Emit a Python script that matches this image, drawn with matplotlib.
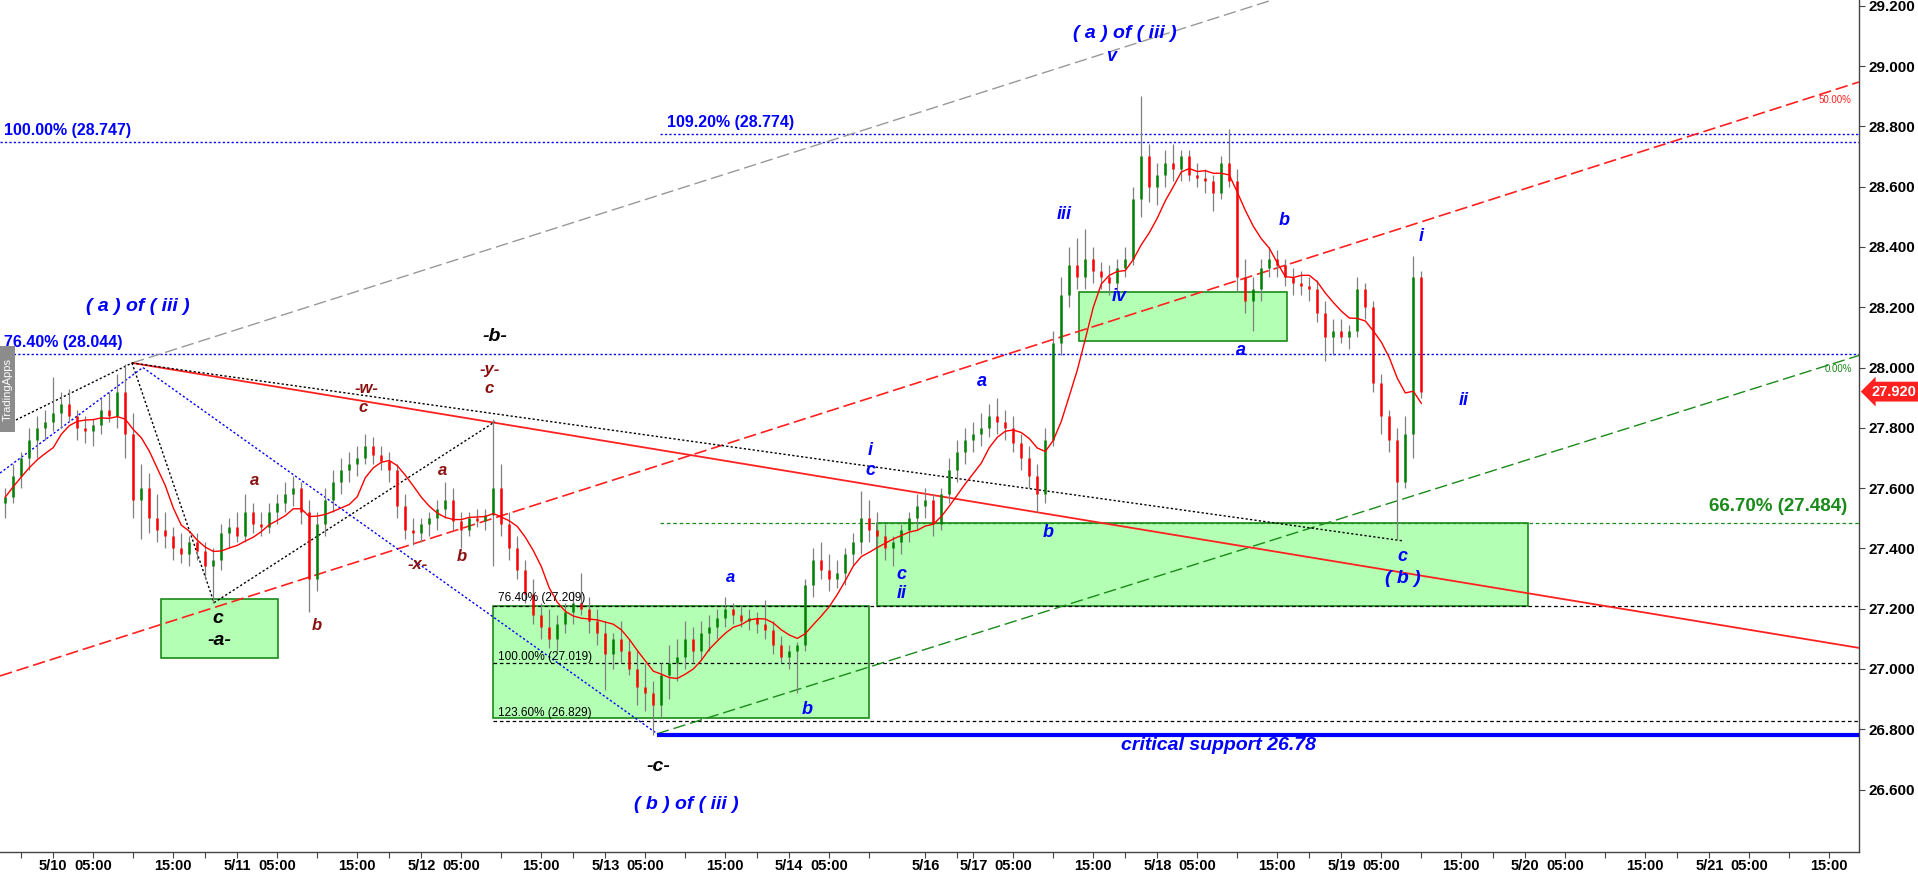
import matplotlib
matplotlib.use("Agg")
import matplotlib.pyplot as plt
from matplotlib.patches import Rectangle
import numpy as np
import pandas as pd

plt.rcParams['lines.scale_dashes'] = False
plt.rcParams['font.family'] = ['Liberation Sans', 'DejaVu Sans']

# ---------------- data: hourly bars (index 0 = 5/10 00:00, -6 = 5/9 18:00) ----------------
bar_index = list(range(-6, 172))
opens = [27.55, 27.57, 27.64, 27.70, 27.76, 27.80,
         27.82, 27.85, 27.88, 27.84, 27.80, 27.79, 27.81, 27.86, 27.84, 27.92,
         27.78, 27.56, 27.60, 27.50, 27.46, 27.44, 27.40, 27.38, 27.42, 27.39,
         27.34, 27.36, 27.45, 27.47, 27.44, 27.52, 27.48, 27.47, 27.52, 27.55,
         27.58, 27.60, 27.52, 27.30, 27.48, 27.56, 27.62, 27.66, 27.68, 27.70,
         27.74, 27.71, 27.69, 27.66, 27.54, 27.46, 27.45, 27.48, 27.50, 27.53,
         27.56, 27.49, 27.46, 27.50, 27.49, 27.51, 27.60, 27.48, 27.40, 27.33,
         27.25, 27.18, 27.14, 27.10, 27.15, 27.19, 27.22, 27.20, 27.16, 27.12,
         27.05, 27.10, 27.06, 27.00, 26.94, 26.92, 26.88, 26.98, 27.02, 27.04,
         27.10, 27.06, 27.12, 27.14, 27.17, 27.20, 27.18, 27.16, 27.17, 27.15,
         27.13, 27.08, 27.04, 27.06, 27.08, 27.28, 27.36, 27.33, 27.30, 27.32,
         27.38, 27.42, 27.50, 27.46, 27.44, 27.40, 27.42, 27.46, 27.50, 27.54,
         27.56, 27.48, 27.58, 27.66, 27.72, 27.76, 27.78, 27.80, 27.84, 27.82,
         27.80, 27.75, 27.70, 27.64, 27.58, 27.76, 28.08, 28.24, 28.34, 28.30,
         28.36, 28.32, 28.30, 28.28, 28.33, 28.36, 28.56, 28.70, 28.60, 28.64,
         28.68, 28.66, 28.70, 28.64, 28.63, 28.62, 28.58, 28.68, 28.62, 28.30,
         28.22, 28.26, 28.33, 28.36, 28.34, 28.30, 28.28, 28.27, 28.26, 28.18,
         28.10, 28.12, 28.10, 28.12, 28.26, 28.20, 27.95, 27.84, 27.76, 27.62, 27.78, 28.30]
highs = [27.60, 27.68, 27.72, 27.80, 27.84, 27.86,
         27.97, 27.92, 27.93, 27.86, 27.84, 27.83, 27.90, 27.92, 27.98, 28.01,
         27.85, 27.68, 27.65, 27.58, 27.52, 27.47, 27.45, 27.44, 27.45, 27.42,
         27.40, 27.48, 27.50, 27.52, 27.58, 27.55, 27.52, 27.55, 27.58, 27.62,
         27.64, 27.62, 27.56, 27.52, 27.60, 27.66, 27.70, 27.72, 27.74, 27.78,
         27.77, 27.74, 27.72, 27.68, 27.58, 27.50, 27.50, 27.52, 27.56, 27.62,
         27.60, 27.52, 27.52, 27.53, 27.53, 27.83, 27.68, 27.52, 27.44, 27.36,
         27.30, 27.22, 27.20, 27.18, 27.22, 27.26, 27.32, 27.24, 27.20, 27.16,
         27.12, 27.16, 27.10, 27.06, 27.02, 26.96, 27.02, 27.08, 27.10, 27.16,
         27.14, 27.16, 27.18, 27.20, 27.24, 27.22, 27.21, 27.20, 27.19, 27.23,
         27.16, 27.11, 27.08, 27.09, 27.30, 27.40, 27.42, 27.38, 27.36, 27.40,
         27.45, 27.59, 27.56, 27.52, 27.48, 27.44, 27.48, 27.52, 27.58, 27.60,
         27.58, 27.60, 27.70, 27.76, 27.80, 27.82, 27.85, 27.88, 27.90, 27.86,
         27.84, 27.78, 27.74, 27.68, 27.80, 28.12, 28.30, 28.40, 28.43, 28.46,
         28.40, 28.35, 28.34, 28.36, 28.40, 28.60, 28.90, 28.74, 28.68, 28.72,
         28.74, 28.72, 28.72, 28.68, 28.66, 28.64, 28.70, 28.79, 28.66, 28.36,
         28.30, 28.36, 28.40, 28.39, 28.36, 28.33, 28.32, 28.30, 28.29, 28.22,
         28.16, 28.16, 28.14, 28.30, 28.28, 28.22, 27.98, 27.86, 27.80, 27.84, 28.37, 28.32]
lows = [27.50, 27.55, 27.60, 27.66, 27.70, 27.76,
        27.79, 27.80, 27.82, 27.76, 27.75, 27.74, 27.78, 27.82, 27.80, 27.70,
        27.50, 27.43, 27.45, 27.42, 27.40, 27.36, 27.35, 27.34, 27.36, 27.30,
        27.22, 27.33, 27.40, 27.42, 27.42, 27.45, 27.44, 27.45, 27.48, 27.52,
        27.54, 27.48, 27.19, 27.26, 27.44, 27.52, 27.58, 27.62, 27.64, 27.68,
        27.68, 27.66, 27.62, 27.50, 27.43, 27.41, 27.42, 27.44, 27.46, 27.50,
        27.46, 27.40, 27.44, 27.47, 27.46, 27.34, 27.44, 27.36, 27.30, 27.22,
        27.15, 27.10, 27.07, 27.06, 27.12, 27.15, 27.18, 27.12, 27.08, 26.93,
        27.00, 27.02, 26.98, 26.88, 26.86, 26.78, 26.84, 26.90, 26.96, 27.00,
        27.02, 27.03, 27.06, 27.10, 27.14, 27.15, 27.14, 27.13, 27.12, 27.10,
        27.05, 27.02, 27.00, 26.92, 27.06, 27.24, 27.30, 27.26, 27.27, 27.28,
        27.34, 27.38, 27.42, 27.40, 27.36, 27.34, 27.38, 27.42, 27.46, 27.50,
        27.44, 27.46, 27.55, 27.62, 27.68, 27.72, 27.74, 27.77, 27.78, 27.76,
        27.72, 27.66, 27.60, 27.52, 27.55, 27.74, 28.04, 28.20, 28.26, 28.26,
        28.28, 28.26, 28.24, 28.25, 28.30, 28.34, 28.50, 28.55, 28.54, 28.60,
        28.62, 28.62, 28.62, 28.60, 28.58, 28.52, 28.56, 28.60, 28.25, 28.18,
        28.12, 28.22, 28.30, 28.30, 28.27, 28.24, 28.24, 28.22, 28.15, 28.02,
        28.04, 28.08, 28.06, 28.10, 28.16, 27.92, 27.78, 27.72, 27.43, 27.60, 27.70, 27.90]
closes = [27.57, 27.64, 27.70, 27.76, 27.80, 27.82,
          27.85, 27.88, 27.84, 27.80, 27.79, 27.81, 27.86, 27.84, 27.92, 27.78,
          27.56, 27.60, 27.50, 27.46, 27.44, 27.40, 27.38, 27.42, 27.39, 27.34,
          27.36, 27.45, 27.47, 27.44, 27.52, 27.48, 27.47, 27.52, 27.55, 27.58,
          27.60, 27.52, 27.30, 27.48, 27.56, 27.62, 27.66, 27.68, 27.70, 27.74,
          27.71, 27.69, 27.66, 27.54, 27.46, 27.45, 27.48, 27.50, 27.53, 27.56,
          27.49, 27.46, 27.50, 27.49, 27.51, 27.60, 27.48, 27.40, 27.33, 27.25,
          27.18, 27.14, 27.10, 27.15, 27.19, 27.22, 27.20, 27.16, 27.12, 27.05,
          27.10, 27.06, 27.00, 26.94, 26.92, 26.88, 26.98, 27.02, 27.04, 27.10,
          27.06, 27.12, 27.14, 27.17, 27.20, 27.18, 27.16, 27.17, 27.15, 27.13,
          27.08, 27.04, 27.06, 27.08, 27.28, 27.36, 27.33, 27.30, 27.32, 27.38,
          27.42, 27.50, 27.46, 27.44, 27.40, 27.42, 27.46, 27.50, 27.54, 27.56,
          27.48, 27.58, 27.66, 27.72, 27.76, 27.78, 27.80, 27.84, 27.82, 27.80,
          27.75, 27.70, 27.64, 27.58, 27.76, 28.08, 28.24, 28.34, 28.30, 28.36,
          28.32, 28.30, 28.28, 28.33, 28.36, 28.56, 28.70, 28.60, 28.64, 28.68,
          28.66, 28.70, 28.64, 28.63, 28.62, 28.58, 28.68, 28.62, 28.30, 28.22,
          28.26, 28.33, 28.36, 28.34, 28.30, 28.28, 28.27, 28.26, 28.18, 28.10,
          28.12, 28.10, 28.12, 28.26, 28.20, 27.95, 27.84, 27.76, 27.62, 27.78, 28.30, 27.92]
ma_window = 7
last_price = 27.92

y_ticks = [26.6, 26.8, 27.0, 27.2, 27.4, 27.6, 27.8, 28.0, 28.2, 28.4, 28.6, 28.8, 29.0, 29.2]
x_tick_pos = [0, 5, 15, 23, 28, 38, 46, 51, 61, 69, 74, 84, 92, 97, 109,
              115, 120, 130, 138, 143, 153, 161, 166, 176, 184, 189, 199, 207, 212, 222]
x_tick_labels = ["5/10", "05:00", "15:00", "5/11", "05:00", "15:00", "5/12", "05:00", "15:00",
                 "5/13", "05:00", "15:00", "5/14", "05:00", "5/16", "5/17", "05:00", "15:00",
                 "5/18", "05:00", "15:00", "5/19", "05:00", "15:00", "5/20", "05:00", "15:00",
                 "5/21", "05:00", "15:00"]
x_minor_pos = [-4, 10, 19, 33, 42, 56, 65, 79, 88, 102, 113, 125, 134, 148, 157, 171, 180, 194, 203, 217]

# fib / level values
levels_blue = [28.747, 28.044]
level_109 = 28.774
levels_fib_black = [27.209, 27.019, 26.829]
level_green = 27.484
critical_support = 26.78

# ---------------- figure ----------------
fig = plt.figure(figsize=(19.18, 8.75), dpi=100)
ax = fig.add_axes([0, 0.02663, 0.96924, 0.97337])
XMIN, XMAX = -6.66, 225.71
ax.set_xlim(XMIN, XMAX)
ax.set_ylim(26.394, 29.219)
ax.set_facecolor('white')
for s in ['top', 'left']:
    ax.spines[s].set_visible(False)
for s in ['right', 'bottom']:
    ax.spines[s].set_color('#444444')
    ax.spines[s].set_linewidth(1.0)

ax.yaxis.tick_right()
ax.set_yticks(y_ticks)
ax.set_yticklabels([f"{v:.3f}" for v in y_ticks])
ax.tick_params(axis='y', direction='out', length=4, width=0.8, pad=3, labelsize=11, colors='#444444', labelcolor='black')
for t in ax.get_yticklabels():
    t.set_fontweight('bold')
ax.set_xticks(x_tick_pos)
ax.set_xticklabels(x_tick_labels)
ax.set_xticks(x_minor_pos, minor=True)
ax.tick_params(axis='x', which='both', direction='out', length=4, width=0.8, pad=1.5, labelsize=10.5, colors='#444444', labelcolor='black')
for t in ax.get_xticklabels():
    t.set_fontweight('bold')

# ---------------- boxes ----------------
boxes = [((13.5, 27.036), (28.05, 27.232)),
         ((55.0, 26.838), (102.0, 27.209)),
         ((103.0, 27.209), (184.3, 27.484)),
         ((128.2, 28.088), (154.2, 28.25))]
for (x0, y0), (x1, y1) in boxes:
    ax.add_patch(Rectangle((x0, y0), x1 - x0, y1 - y0, facecolor='#b3ffb3', edgecolor='#1a8a1a', lw=1.2, zorder=1))

# ---------------- horizontal levels ----------------
dot = (0, (1.6, 1.6))
fdash = (0, (2.6, 2.0))
ldash = (0, (9, 3.5))
for lv in levels_blue:
    ax.hlines(lv, XMIN, XMAX, colors='#0000ff', linestyles=dot, lw=1.0, zorder=2)
ax.hlines(level_109, 75.8, XMAX, colors='#0000ff', linestyles=dot, lw=1.0, zorder=2)
for lv in levels_fib_black:
    ax.hlines(lv, 55.0, XMAX, colors='black', linestyles=fdash, lw=0.9, zorder=2)
ax.hlines(level_green, 75.8, XMAX, colors='#1a8a1a', linestyles=fdash, lw=0.9, zorder=2)
ax.hlines(critical_support, 75.5, XMAX, colors='#0000ff', lw=3.0, zorder=3)

# ---------------- trend / channel drawings ----------------
ax.plot([9.84, 170.0], [28.015, 29.368], color='#999999', ls=ldash, lw=1.0, zorder=2)
ax.plot([-6.66, 225.71], [26.977, 28.947], color='#ff2020', ls=ldash, lw=1.2, zorder=2)
ax.plot([75.45, 225.71], [26.785, 28.04], color='#1a8a1a', ls=ldash, lw=1.0, zorder=2)
ax.plot([9.9, 225.71], [28.015, 27.07], color='#ff2020', lw=1.3, zorder=2)
ax.plot([-6.66, 9.84], [27.80, 28.015], color='black', ls=dot, lw=1.0, zorder=2)
ax.plot([9.84, 20.1, 55.2], [28.015, 27.22, 27.82], color='black', ls=dot, lw=1.0, zorder=2)
ax.plot([9.84, 168.7], [28.015, 27.425], color='black', ls=dot, lw=1.0, zorder=2)
ax.plot([-6.66, 11.2, 75.5], [27.65, 28.0, 26.785], color='#0000ff', ls=dot, lw=1.0, zorder=2)

# ---------------- candles ----------------
x = np.array(bar_index)
o = np.array(opens); h = np.array(highs); l = np.array(lows); c = np.array(closes)
up = c >= o
ax.vlines(x, l, h, color='#808080', lw=0.9, zorder=4)
ax.vlines(x[up], o[up], c[up], color='#008000', lw=1.8, zorder=5)
ax.vlines(x[~up], o[~up], c[~up], color='#ff0000', lw=1.8, zorder=5)
ma = pd.Series(closes).rolling(ma_window, min_periods=1).mean()
ax.plot(x, ma, color='#ff0000', lw=1.0, zorder=6)

# ---------------- labels ----------------
def lab(xp, yp, s, color, size, style='italic', weight='bold', ha='center'):
    ax.text(xp, yp, s, color=color, fontsize=size, fontstyle=style, fontweight=weight,
            ha=ha, va='center', zorder=8)

BLUE = '#0000ff'
MAROON = '#8b1010'
for xp, yp, s, sz in [(10.6, 28.204, "( a ) of ( iii )", 14), (133.9, 29.109, "( a ) of ( iii )", 14),
                      (132.2, 29.033, "v", 13), (79.1, 26.552, "( b ) of ( iii )", 14),
                      (84.6, 27.305, "a", 12), (94.2, 26.867, "b", 13), (102.1, 27.726, "i", 13),
                      (102.1, 27.66, "c", 13), (106.0, 27.312, "c", 13), (106.0, 27.249, "ii", 13),
                      (116.1, 27.952, "a", 13), (124.4, 27.454, "b", 13), (126.4, 28.509, "iii", 13),
                      (133.2, 28.234, "iv", 13), (148.5, 28.058, "a", 13), (153.9, 28.486, "b", 13),
                      (171.0, 28.436, "i", 13), (176.3, 27.892, "ii", 13), (168.6, 27.372, "c", 13),
                      (168.7, 27.30, "( b )", 14)]:
    lab(xp, yp, s, BLUE, sz)
for xp, yp, s in [(25.1, 27.624, "a"), (32.9, 27.143, "b"), (39.1, 27.93, "-w-"), (38.7, 27.869, "c"),
                  (48.7, 27.657, "a"), (45.6, 27.348, "-x-"), (51.1, 27.372, "b"),
                  (54.5, 27.995, "-y-"), (54.5, 27.929, "c")]:
    lab(xp, yp, s, MAROON, 12)
for xp, yp, s in [(55.2, 28.104, "-b-"), (20.6, 27.166, "c"), (20.8, 27.093, "-a-"), (75.7, 26.675, "-c-")]:
    lab(xp, yp, s, 'black', 14)

lab(-6.1, 28.785, "100.00% (28.747)", BLUE, 11.5, style='normal', ha='left')
lab(76.7, 28.814, "109.20% (28.774)", BLUE, 11.5, style='normal', ha='left')
lab(-6.1, 28.083, "76.40% (28.044)", BLUE, 11.5, style='normal', ha='left')
lab(207.0, 27.539, "66.70% (27.484)", '#1a8a1a', 13.5, style='normal', ha='left')
lab(55.6, 27.236, "76.40% (27.209)", 'black', 8.5, style='normal', weight='normal', ha='left')
lab(55.6, 27.040, "100.00% (27.019)", 'black', 8.5, style='normal', weight='normal', ha='left')
lab(55.6, 26.854, "123.60% (26.829)", 'black', 8.5, style='normal', weight='normal', ha='left')
lab(145.6, 26.745, "critical support 26.78", BLUE, 14)
lab(224.8, 28.887, "50.00%", '#ff2020', 7, style='normal', weight='normal', ha='right')
lab(224.8, 27.995, "0.00%", '#1a8a1a', 7, style='normal', weight='normal', ha='right')

# last price tag
ax.annotate(f"{last_price:.3f}", xy=(1.0, last_price), xycoords=('axes fraction', 'data'),
            xytext=(9, 0), textcoords='offset points', ha='left', va='center', color='white',
            fontsize=10.5, fontweight='bold', annotation_clip=False, zorder=10,
            bbox=dict(boxstyle='larrow,pad=0.2', fc='#ff2020', ec='none'))

# watermark tab
fig.patches.append(Rectangle((0, 0.5063), 15 / 1918, 0.0983, transform=fig.transFigure,
                             facecolor='#8c8c8c', edgecolor='none', zorder=20))
fig.text(7.5 / 1918, 0.5554, "TradingApps", rotation=90, color='white', fontsize=8,
         ha='center', va='center', zorder=21)

fig.savefig("out.png", dpi=100)
